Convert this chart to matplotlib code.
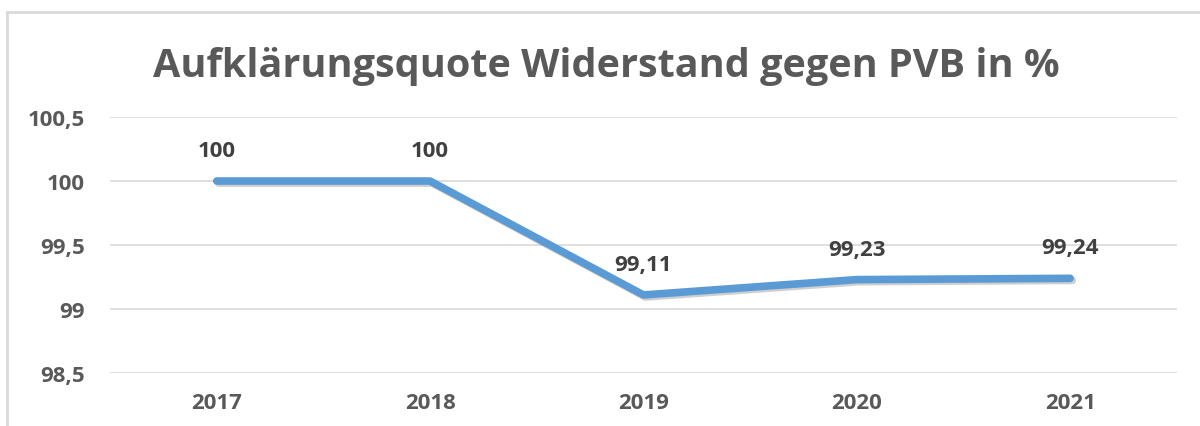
import matplotlib
matplotlib.use("Agg")
import matplotlib.pyplot as plt
import matplotlib.patheffects as pe
from matplotlib.lines import Line2D

years = ["2017", "2018", "2019", "2020", "2021"]
values = [100, 100, 99.11, 99.23, 99.24]
labels = ["100", "100", "99,11", "99,23", "99,24"]
yticks = [98.5, 99, 99.5, 100, 100.5]
ytick_labels = ["98,5", "99", "99,5", "100", "100,5"]

plt.rcParams['font.family'] = ['Open Sans', 'DejaVu Sans']
grey = "#595959"

fig = plt.figure(figsize=(12, 4.27), dpi=100)
ax = fig.add_axes([0.0917, 0.124, 0.889, 0.5996])
x = list(range(len(years)))
ax.plot(x, values, color="#5B9BD5", linewidth=5.5, solid_capstyle="round",
        solid_joinstyle="round",
        path_effects=[pe.SimpleLineShadow(offset=(1.5, -1.5), shadow_color="#888888", alpha=0.4),
                      pe.Normal()], zorder=3)
for xi, v, lab in zip(x, values, labels):
    ax.annotate(lab, (xi, v), xytext=(0, 22), textcoords="offset points",
                ha="center", va="center", fontsize=16, fontweight="bold", color="#404040")

ax.set_xlim(-0.5, 4.5)
ax.set_ylim(98.5, 100.5)
ax.set_yticks(yticks)
ax.set_yticklabels(ytick_labels)
ax.set_xticks(x)
ax.set_xticklabels(years)
ax.tick_params(axis="both", length=0, labelsize=16, labelcolor=grey)
ax.tick_params(axis="y", pad=18)
ax.tick_params(axis="x", pad=14)
for t in ax.get_xticklabels() + ax.get_yticklabels():
    t.set_fontweight("bold")
ax.grid(axis="y", color="#D9D9D9", linewidth=1.2)
ax.set_axisbelow(True)
for s in ax.spines.values():
    s.set_visible(False)

fig.text(0.505, 0.845, "Aufklärungsquote Widerstand gegen PVB in %", ha="center", va="center",
         fontsize=28.5, fontweight="bold", color=grey)

fig.add_artist(Line2D([0.006, 0.006], [0.0, 0.97], color="#D9D9D9", linewidth=2, transform=fig.transFigure))
fig.add_artist(Line2D([0.006, 1.0], [0.97, 0.97], color="#D9D9D9", linewidth=2, transform=fig.transFigure))

fig.savefig("out.png", dpi=100, facecolor="white")
